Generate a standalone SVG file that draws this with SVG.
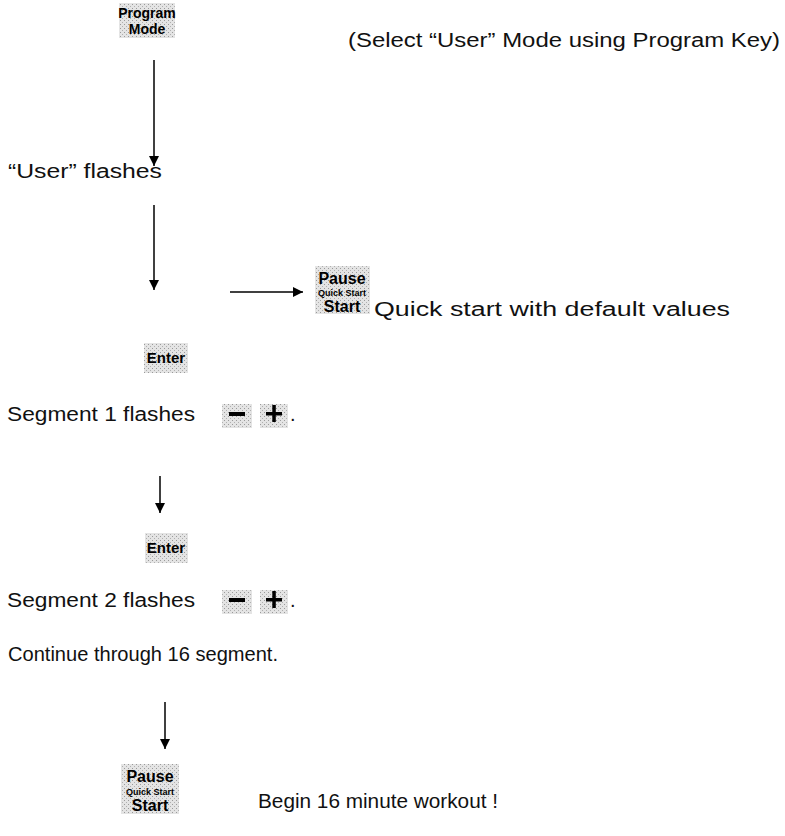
<svg xmlns="http://www.w3.org/2000/svg" width="785" height="836" viewBox="0 0 785 836">
<defs>
<pattern id="stip" width="4" height="4" patternUnits="userSpaceOnUse">
<rect width="4" height="4" fill="#e4e4e4"/>
<rect x="0" y="0" width="1" height="1" fill="#9a9a9a"/>
<rect x="2" y="2" width="1" height="1" fill="#b0b0b0"/>
</pattern>
<marker id="ah" viewBox="0 0 10 10" refX="10" refY="5" markerWidth="10" markerHeight="10" markerUnits="userSpaceOnUse" orient="auto">
<path d="M0,0 L10,5 L0,10 Z" fill="#000"/>
</marker>
</defs>
<style>
.key{fill:url(#stip);}
.kt{font-family:"Liberation Sans",Arial,sans-serif;font-weight:bold;fill:#000;text-anchor:middle;}
.t{font-family:"Liberation Sans",Arial,sans-serif;fill:#111;font-size:20px;}
.c{stroke:#000;stroke-width:1.5;fill:none;marker-end:url(#ah);}
</style>
<rect width="785" height="836" fill="#fff"/>
<g id="connectors">
<line class="c" x1="154" y1="60" x2="154" y2="166"/>
<line class="c" x1="154" y1="205" x2="154" y2="290"/>
<line class="c" x1="230" y1="292" x2="303" y2="292"/>
<line class="c" x1="160" y1="476" x2="160" y2="513"/>
<line class="c" x1="165" y1="702" x2="165" y2="749"/>
</g>
<g id="program-mode">
<rect class="key" x="119" y="3" width="56" height="35"/>
<text class="kt" x="147" y="18" font-size="14">Program</text>
<text class="kt" x="147" y="34" font-size="14">Mode</text>
</g>
<g id="select-note"><text class="t" x="348" y="47" textLength="432" lengthAdjust="spacingAndGlyphs">(Select “User” Mode using Program Key)</text></g>
<g id="user-flashes"><text class="t" x="8" y="178" textLength="154" lengthAdjust="spacingAndGlyphs">“User” flashes</text></g>
<g id="pause-start-1">
<rect class="key" x="315" y="266" width="55" height="48"/>
<text class="kt" x="342" y="284" font-size="16">Pause</text>
<text class="kt" x="342" y="296" font-size="9">Quick Start</text>
<text class="kt" x="342" y="312" font-size="16">Start</text>
</g>
<g id="quick-start-note"><text class="t" x="374" y="316" textLength="356" lengthAdjust="spacingAndGlyphs">Quick start with default values</text></g>
<g id="enter-1">
<rect class="key" x="144" y="343" width="44" height="30"/>
<text class="kt" x="166" y="363" font-size="15">Enter</text>
</g>
<g id="segment-1">
<text class="t" x="7" y="421" textLength="188" lengthAdjust="spacingAndGlyphs">Segment 1 flashes</text>
<rect class="key" x="222" y="404" width="30" height="24"/>
<rect x="229" y="412" width="16" height="4" fill="#000"/>
<rect class="key" x="260" y="404" width="28" height="24"/>
<rect x="266" y="412" width="16" height="3.5" fill="#000"/>
<rect x="272.3" y="405" width="3.5" height="17" fill="#000"/>
<text class="t" x="290" y="421">.</text>
</g>
<g id="enter-2">
<rect class="key" x="145" y="533" width="43" height="30"/>
<text class="kt" x="166" y="553" font-size="15">Enter</text>
</g>
<g id="segment-2">
<text class="t" x="7" y="607" textLength="188" lengthAdjust="spacingAndGlyphs">Segment 2 flashes</text>
<rect class="key" x="222" y="590" width="30" height="24"/>
<rect x="229" y="598" width="16" height="4" fill="#000"/>
<rect class="key" x="260" y="590" width="28" height="24"/>
<rect x="266" y="598" width="16" height="3.5" fill="#000"/>
<rect x="272.3" y="591" width="3.5" height="17" fill="#000"/>
<text class="t" x="290" y="607">.</text>
</g>
<g id="continue"><text class="t" x="8" y="661" textLength="270" lengthAdjust="spacingAndGlyphs">Continue through 16 segment.</text></g>
<g id="pause-start-2">
<rect class="key" x="121" y="764" width="58" height="50"/>
<text class="kt" x="150" y="782" font-size="16">Pause</text>
<text class="kt" x="150" y="795" font-size="9">Quick Start</text>
<text class="kt" x="150" y="811" font-size="16">Start</text>
</g>
<g id="begin-note"><text class="t" x="258" y="808" textLength="240" lengthAdjust="spacingAndGlyphs">Begin 16 minute workout !</text></g>
</svg>
